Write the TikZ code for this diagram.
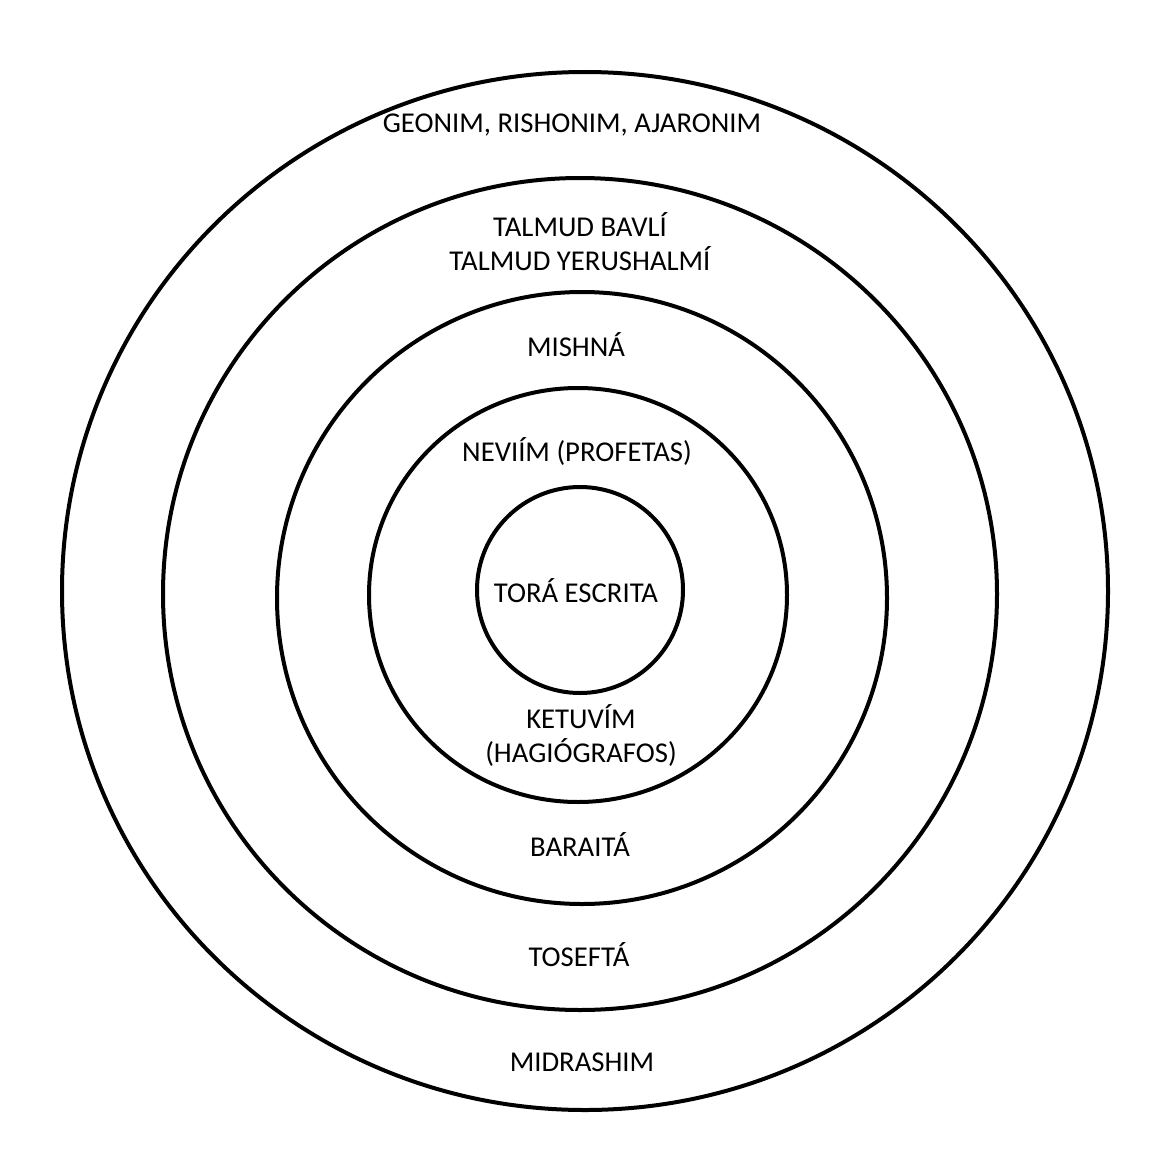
\documentclass[tikz,border=0pt]{standalone}
\usepackage{fontspec}
\setmainfont{Carlito}
\begin{document}
\begin{tikzpicture}[x=1pt,y=-1pt,
  ring/.style={draw=black,line width=4pt},
  lbl/.style={font=\fontsize{28.7}{34}\selectfont,align=center,inner sep=0pt,text=black}]
\useasboundingbox[fill=white] (0,0) rectangle (1170,1164);
\draw[ring] (585,591) ellipse [x radius=523,y radius=519];
\draw[ring] (580,594) ellipse [x radius=417,y radius=416];
\draw[ring] (582,598) ellipse [x radius=305,y radius=306];
\draw[ring] (578,595) ellipse [x radius=209,y radius=207];
\draw[ring] (580,590) ellipse [x radius=103,y radius=103];
\node[lbl] (geonim) at (572,125) {GEONIM, RISHONIM, AJARONIM};
\node[lbl] (talmud) at (580,242) {TALMUD BAVLÍ\\TALMUD YERUSHALMÍ};
\node[lbl] (mishna) at (576,345) {MISHNÁ};
\node[lbl] (neviim) at (577,452) {NEVIÍM (PROFETAS)};
\node[lbl] (tora) at (576,591) {TORÁ ESCRITA};
\node[lbl] (ketuvim) at (581,735) {KETUVÍM\\(HAGIÓGRAFOS)};
\node[lbl] (baraita) at (580,845) {BARAITÁ};
\node[lbl] (tosefta) at (579,955) {TOSEFTÁ};
\node[lbl] (midrashim) at (582,1062) {MIDRASHIM};
\end{tikzpicture}
\end{document}
